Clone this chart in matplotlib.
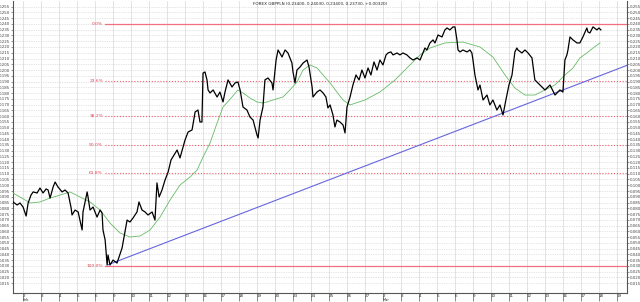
import matplotlib
matplotlib.use("Agg")
import matplotlib.pyplot as plt
import numpy as np

# ---------------- data ----------------
day_labels = ["2", "3", "4", "5", "6", "9", "10", "11", "12", "13", "16", "17",
              "18", "19", "20", "23", "24", "25", "26", "27", "2", "3", "4",
              "5", "6", "9", "10", "11", "12", "13", "16", "17", "18", "19"]
month_labels = [(0, "Feb"), (20, "Mar")]

price_t = [-0.56, -0.33, -0.17, 0, 0.17, 0.28, 0.44, 0.56, 0.78, 0.94, 1.11, 1.28,
           1.39, 1.50, 1.67, 1.78, 1.94, 2.17, 2.33, 2.50, 2.67, 2.72, 2.89, 3.06,
           3.28, 3.33, 3.56, 3.61, 3.72, 3.89, 4.11, 4.28, 4.39, 4.44, 4.56, 4.67,
           4.72, 4.83, 5.00, 5.22, 5.33, 5.50, 5.61, 5.78, 5.94, 6.11, 6.33, 6.44,
           6.61, 6.78, 6.94, 7.17, 7.33, 7.44, 7.56, 7.72, 7.89, 8.06, 8.22, 8.39,
           8.56, 8.72, 8.89, 9.00, 9.17, 9.39, 9.56, 9.72, 9.83, 9.94, 10.00, 10.11,
           10.22, 10.28, 10.39, 10.56, 10.78, 10.94, 11.11, 11.22, 11.39, 11.61,
           11.78, 11.94, 12.06, 12.22, 12.44, 12.61, 12.78, 13.00, 13.06, 13.17,
           13.33, 13.44, 13.61, 13.83, 13.89, 14.06, 14.17, 14.39, 14.56, 14.72,
           14.94, 15.00, 15.11, 15.22, 15.39, 15.56, 15.78, 15.89, 16.06, 16.11,
           16.33, 16.50, 16.67, 16.83, 16.94, 17.06, 17.22, 17.33, 17.44, 17.61,
           17.78, 17.89, 18.00, 18.17, 18.33, 18.50, 18.67, 18.83, 19.00, 19.17,
           19.33, 19.50, 19.67, 19.83, 20.00, 20.17, 20.28, 20.44, 20.56, 20.78,
           20.94, 21.11, 21.33, 21.50, 21.67, 21.89, 22.06, 22.33, 22.44, 22.61,
           22.78, 22.89, 23.06, 23.28, 23.44, 23.56, 23.72, 23.89, 24.00, 24.11,
           24.17, 24.28, 24.44, 24.67, 24.83, 24.94, 25.00, 25.11, 25.28, 25.39,
           25.56, 25.78, 25.94, 26.11, 26.33, 26.50, 26.67, 26.83, 27.00, 27.17,
           27.33, 27.44, 27.50, 27.72, 27.89, 28.06, 28.28, 28.44, 28.72, 29.00,
           29.28, 29.56, 29.83, 30.00, 30.11, 30.22, 30.28, 30.39, 30.56, 30.78,
           30.94, 31.11, 31.33, 31.39, 31.50, 31.67, 31.89, 32.00, 32.11]

price_v = [0.0855, 0.0829, 0.0846, 0.0811, 0.0733, 0.0846, 0.0915, 0.0942, 0.0933,
           0.0976, 0.0933, 0.0968, 0.0959, 0.0889, 0.0985, 0.1028, 0.0985, 0.0942,
           0.0959, 0.0933, 0.0803, 0.0742, 0.0785, 0.0768, 0.0612, 0.0768, 0.0942,
           0.0898, 0.0785, 0.0811, 0.0724, 0.0785, 0.0759, 0.0612, 0.0525, 0.0308,
           0.0395, 0.0308, 0.0351, 0.0325, 0.0377, 0.0455, 0.0551, 0.0698, 0.0681,
           0.0716, 0.0768, 0.0855, 0.0785, 0.0768, 0.0742, 0.0768, 0.0698, 0.1020,
           0.0898, 0.0959, 0.1046, 0.1115, 0.1219, 0.1263, 0.1306, 0.1237, 0.1332,
           0.1393, 0.1462, 0.1480, 0.1636, 0.1653, 0.1549, 0.1549, 0.1974, 0.1983,
           0.1914, 0.1827, 0.1801, 0.1827, 0.1766, 0.1809, 0.1723, 0.1809, 0.1914,
           0.1853, 0.1888, 0.1896, 0.1827, 0.1679, 0.1653, 0.1592, 0.1566, 0.1436,
           0.1410, 0.1566, 0.1679, 0.1914, 0.1931, 0.1888, 0.1827, 0.2087, 0.2174,
           0.2113, 0.2174, 0.2148, 0.2061, 0.1983, 0.1888, 0.2000, 0.2026, 0.2061,
           0.2087, 0.2026, 0.1853, 0.1766, 0.1809, 0.1827, 0.1801, 0.1766, 0.1671,
           0.1697, 0.1610, 0.1506, 0.1566, 0.1549, 0.1523, 0.1454, 0.1679, 0.1766,
           0.1870, 0.1957, 0.1914, 0.2000, 0.1931, 0.2018, 0.1957, 0.2070, 0.2000,
           0.2087, 0.2044, 0.2131, 0.2148, 0.2157, 0.2131, 0.2148, 0.2131, 0.2148,
           0.2131, 0.2105, 0.2087, 0.2105, 0.2087, 0.2191, 0.2174, 0.2235, 0.2261,
           0.2235, 0.2304, 0.2287, 0.2348, 0.2365, 0.2348, 0.2374, 0.2374, 0.2261,
           0.2174, 0.2157, 0.2174, 0.2157, 0.2174, 0.2148, 0.2087, 0.1957, 0.1827,
           0.1870, 0.1740, 0.1783, 0.1697, 0.1740, 0.1653, 0.1697, 0.1610, 0.1740,
           0.1870, 0.1957, 0.2157, 0.2191, 0.2174, 0.2148, 0.2174, 0.2148, 0.2105,
           0.1914, 0.1870, 0.1827, 0.1870, 0.1783, 0.1827, 0.1809, 0.2087, 0.2131,
           0.2174, 0.2287, 0.2261, 0.2235, 0.2235, 0.2287, 0.2365, 0.2330, 0.2322,
           0.2374, 0.2348, 0.2365, 0.2348]

ma_t = [-0.56, -0.17, 0.39, 0.94, 1.50, 2.06, 2.61, 3.17, 3.72, 4.28, 4.83, 5.39,
        5.94, 6.50, 7.06, 7.61, 8.17, 8.72, 9.28, 9.67, 10.00, 10.39, 10.78, 11.11,
        11.61, 11.94, 12.22, 12.61, 13.00, 13.28, 13.56, 13.89, 14.44, 14.83, 15.22,
        15.56, 15.94, 16.33, 16.67, 17.06, 17.44, 17.78, 18.17, 19.00, 19.83, 20.67,
        21.50, 22.06, 22.61, 23.44, 24.44, 25.39, 26.11, 26.78, 27.33, 27.89, 28.44,
        29.00, 29.56, 30.11, 30.56, 30.94, 31.33, 31.67, 32.06]
ma_v = [0.0933, 0.0898, 0.0846, 0.0855, 0.0889, 0.0915, 0.0942, 0.0898, 0.0855,
        0.0785, 0.0672, 0.0586, 0.0551, 0.0560, 0.0612, 0.0724, 0.0872, 0.1002,
        0.1072, 0.1132, 0.1245, 0.1367, 0.1540, 0.1679, 0.1766, 0.1827, 0.1801,
        0.1757, 0.1723, 0.1714, 0.1723, 0.1740, 0.1766, 0.1827, 0.1896, 0.2000,
        0.2044, 0.2018, 0.1957, 0.1888, 0.1809, 0.1740, 0.1697, 0.1740, 0.1809,
        0.1914, 0.2044, 0.2131, 0.2191, 0.2235, 0.2243, 0.2200, 0.2113, 0.1957,
        0.1844, 0.1783, 0.1783, 0.1827, 0.1870, 0.1957, 0.2018, 0.2105, 0.2148,
        0.2191, 0.2235]

trend_t = [4.72, 30.00]
trend_v = [0.0310, 0.1827]

fib_high = 0.240
fib_low = 0.030
fib_ratios = [0.0, 23.6, 38.2, 50.0, 61.8, 100.0]
fib_start_t = 4.56

title = "FOREX GBPPLN (0.23400, 0.24030, 0.23400, 0.23730, +0.00320)"

# ---------------- figure ----------------
W, H = 640, 302
fig = plt.figure(figsize=(W / 100, H / 100), dpi=100)
ax = fig.add_axes([13 / W, 1 - 293 / H, (627 - 13) / W, (293 - 1) / H])

x_left, x_right = -0.56, 33.56
ax.set_xlim(x_left, x_right)
ax.set_ylim(0.0065, 0.2599)

# grid
day_pos = np.arange(len(day_labels))
for d in day_pos:
    ax.axvline(d, color="#d8d8d8", lw=0.5, zorder=0)
yt = np.arange(0.015, 0.2551, 0.005)
for v in yt:
    ax.axhline(v, color="#cccccc", lw=0.5, ls=(0, (1, 1.5)), zorder=0)

# fib levels
for r in fib_ratios:
    lvl = fib_high - (fib_high - fib_low) * r / 100.0
    if r in (0.0, 100.0):
        ax.plot([fib_start_t, x_right], [lvl, lvl], color="#f07080", lw=0.9, zorder=1)
    else:
        ax.plot([fib_start_t, x_right], [lvl, lvl], color="#f06070", lw=0.8,
                ls=(0, (1, 1.6)), zorder=1)
    ax.text(fib_start_t - 0.12, lvl, f"{r:.1f}%", color="#e04050", fontsize=3.2,
            ha="right", va="center")

# trend line extended to the right edge
slope = (trend_v[1] - trend_v[0]) / (trend_t[1] - trend_t[0])
ax.plot([trend_t[0], x_right], [trend_v[0], trend_v[0] + slope * (x_right - trend_t[0])],
        color="#6666dd", lw=0.8, zorder=2)

# moving average and price
ax.plot(ma_t, ma_v, color="#66bb66", lw=0.6, zorder=3)
ax.plot(price_t, price_v, color="black", lw=0.9, zorder=4)

# axes styling
ax.spines["top"].set_visible(False)
for s in ["left", "right", "bottom"]:
    ax.spines[s].set_color("#555555")
    ax.spines[s].set_linewidth(0.8)

ax.set_yticks(yt)
ax.set_yticklabels([f"{v:.3f}" for v in yt])
ax.tick_params(axis="y", which="both", labelsize=2.9, length=1.5, width=0.4,
               left=True, right=True, labelleft=True, labelright=True, pad=0.6,
               colors="#444444")
ax.set_xticks(day_pos)
ax.set_xticklabels(day_labels)
ax.tick_params(axis="x", labelsize=3.0, length=6, width=0.4, pad=-5.5, colors="#333333")
for lab in ax.get_xticklabels():
    lab.set_horizontalalignment("left")

# month labels just below the date strip (figure coordinates)
for pos, txt in month_labels:
    x_disp = ax.transData.transform((pos, 0))[0]
    fig.text(x_disp / W, 0.4 / H, txt, fontsize=2.6, ha="left", va="bottom",
             color="#333333")

ax.text(0.5, 0.995, title, transform=ax.transAxes, fontsize=3.0, ha="center",
        va="top", color="#222222")

fig.savefig("out.png", dpi=100)
